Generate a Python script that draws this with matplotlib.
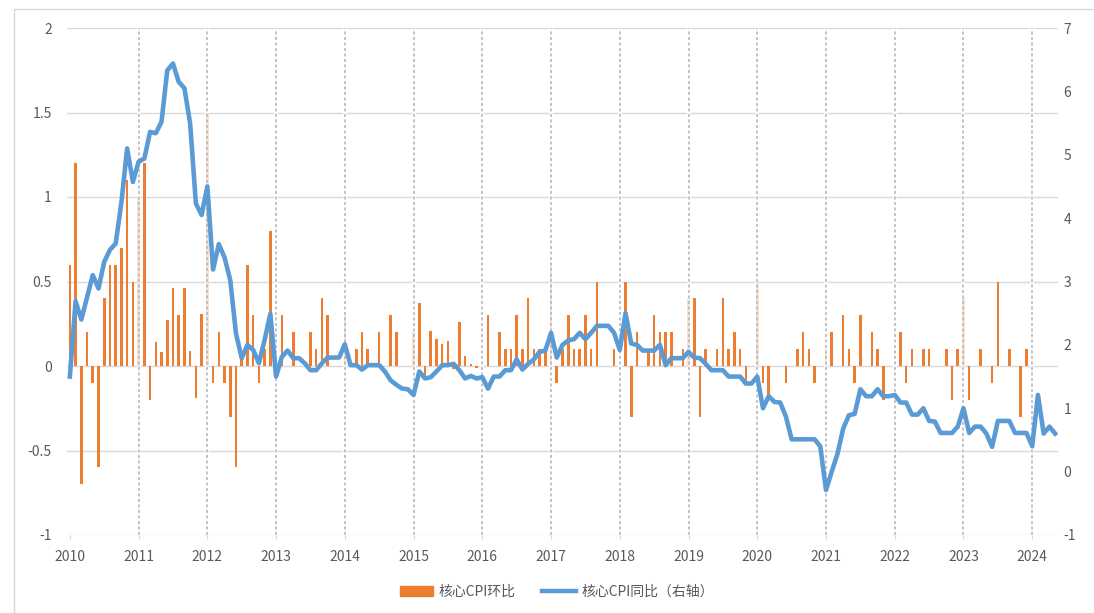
import numpy as np
import matplotlib.pyplot as plt
from matplotlib.patches import Rectangle
from matplotlib.lines import Line2D

plt.rcParams['font.family'] = ['Noto Sans CJK SC', 'DejaVu Sans']

# 年份标签（每年1月）
years = list(range(2010, 2025))

# 核心CPI环比（左轴），2010-01 ~ 2024-05
core_mom = [
    0.6, 1.2, -0.7, 0.2, -0.1, -0.6, 0.4, 0.6, 0.6, 0.7, 1.1, 0.5,         # 2010
    1.0, 1.2, -0.2, 0.14, 0.08, 0.27, 0.46, 0.3, 0.46, 0.09, -0.19, 0.31,  # 2011
    1.5, -0.1, 0.2, -0.1, -0.3, -0.6, 0.05, 0.6, 0.3, -0.1, 0.1, 0.8,      # 2012
    0.0, 0.3, 0.0, 0.2, 0.0, 0.0, 0.2, 0.1, 0.4, 0.3, 0.0, 0.0,            # 2013
    0.3, 0.0, 0.1, 0.2, 0.1, 0.0, 0.2, 0.0, 0.3, 0.2, 0.0, 0.0,            # 2014
    0.2, 0.37, -0.06, 0.21, 0.16, 0.13, 0.15, -0.02, 0.26, 0.06, 0.01, -0.01,  # 2015
    0.0, 0.3, 0.0, 0.2, 0.1, 0.1, 0.3, 0.1, 0.4, 0.1, 0.1, 0.1,            # 2016
    0.6, -0.1, 0.1, 0.3, 0.1, 0.1, 0.3, 0.1, 0.5, 0.0, 0.0, 0.1,           # 2017
    0.0, 0.5, -0.3, 0.2, 0.0, 0.1, 0.3, 0.2, 0.2, 0.2, 0.0, 0.1,           # 2018
    0.4, 0.4, -0.3, 0.1, 0.0, 0.1, 0.4, 0.1, 0.2, 0.1, -0.1, 0.0,          # 2019
    0.5, -0.1, -0.2, 0.0, 0.0, -0.1, 0.0, 0.1, 0.2, 0.1, -0.1, 0.0,        # 2020
    0.1, 0.2, 0.0, 0.3, 0.1, -0.1, 0.3, 0.0, 0.2, 0.1, -0.2, 0.0,          # 2021
    0.0, 0.2, -0.1, 0.1, 0.0, 0.1, 0.1, 0.0, 0.0, 0.1, -0.2, 0.1,          # 2022
    0.4, -0.2, 0.0, 0.1, 0.0, -0.1, 0.5, 0.0, 0.1, 0.0, -0.3, 0.1,         # 2023
    0.0, 0.0, 0.0, 0.0, 0.0,                                                # 2024
]

# 核心CPI同比（右轴）
core_yoy = [
    1.50, 2.69, 2.40, 2.75, 3.10, 2.89, 3.31, 3.50, 3.60, 4.25, 5.10, 4.57,  # 2010
    4.89, 4.94, 5.36, 5.34, 5.52, 6.33, 6.44, 6.15, 6.05, 5.49, 4.23, 4.05,  # 2011
    4.50, 3.19, 3.59, 3.38, 3.02, 2.18, 1.79, 2.00, 1.92, 1.71, 2.08, 2.49,  # 2012
    1.50, 1.81, 1.91, 1.79, 1.79, 1.71, 1.60, 1.60, 1.71, 1.80, 1.80, 1.80,  # 2013
    2.01, 1.68, 1.68, 1.61, 1.68, 1.68, 1.68, 1.58, 1.44, 1.37, 1.31, 1.30,  # 2014
    1.21, 1.58, 1.47, 1.49, 1.58, 1.68, 1.68, 1.70, 1.60, 1.47, 1.51, 1.47,  # 2015
    1.49, 1.31, 1.50, 1.50, 1.60, 1.60, 1.77, 1.61, 1.70, 1.77, 1.89, 1.91,  # 2016
    2.19, 1.80, 2.00, 2.07, 2.09, 2.19, 2.09, 2.19, 2.30, 2.30, 2.30, 2.19,  # 2017
    1.92, 2.50, 2.02, 2.00, 1.91, 1.91, 1.91, 2.00, 1.68, 1.79, 1.79, 1.79,  # 2018
    1.89, 1.80, 1.79, 1.70, 1.60, 1.60, 1.60, 1.50, 1.50, 1.50, 1.39, 1.39,  # 2019
    1.50, 1.00, 1.19, 1.10, 1.09, 0.87, 0.51, 0.51, 0.51, 0.51, 0.51, 0.40,  # 2020
    -0.29, 0.00, 0.28, 0.68, 0.89, 0.91, 1.30, 1.19, 1.19, 1.30, 1.19, 1.19,  # 2021
    1.21, 1.09, 1.09, 0.90, 0.90, 1.00, 0.80, 0.79, 0.61, 0.61, 0.61, 0.71,  # 2022
    1.00, 0.61, 0.71, 0.71, 0.60, 0.39, 0.80, 0.80, 0.80, 0.61, 0.61, 0.61,  # 2023
    0.40, 1.21, 0.60, 0.71, 0.60,                                            # 2024
]

left_ticks = [-1, -0.5, 0, 0.5, 1, 1.5, 2]
right_ticks = [-1, 0, 1, 2, 3, 4, 5, 6, 7]

txt_color = '#595959'
grid_color = '#d9d9d9'

fig = plt.figure(figsize=(10.94, 6.13), dpi=100)
fig.patch.set_facecolor('white')

# chart area border (only top/left fall inside the picture)
fig.patches.append(Rectangle((14 / 1094, -0.05), 1.2, 1 - 9 / 613 + 0.05,
                             transform=fig.transFigure, fill=False,
                             ec=grid_color, lw=1))

ax = fig.add_axes([67 / 1094, 1 - 535 / 613, (1058 - 67) / 1094, (535 - 28) / 613])
ax2 = ax.twinx()

x = np.arange(len(core_mom))
ax.bar(x, core_mom, width=0.45, color='#ed7d31', zorder=2)

# dashed year separators, drawn over the January bars so those look faint
jan_idx = [12 * (y - 2010) for y in years]
for i in jan_idx[1:]:
    ax.axvline(i, color='white', lw=2.8, alpha=0.8, zorder=3)
    ax.axvline(i, color='#b4b4b4', ls=(0, (2.0, 1.6)), lw=1.1, zorder=3.5)

ax2.plot(x, core_yoy, color='#5b9bd5', lw=3.3, solid_joinstyle='round', zorder=4)

ax.set_xlim(-0.5, len(core_mom) - 0.5)
ax.set_ylim(-1, 2)
ax2.set_ylim(-1, 7)

ax.set_yticks(left_ticks)
ax.set_yticklabels([f'{v:g}' for v in left_ticks])
ax2.set_yticks(right_ticks)
ax2.set_yticklabels([str(v) for v in right_ticks])
ax.set_xticks(jan_idx)
ax.set_xticklabels([str(y) for y in years])

ax.grid(axis='y', color=grid_color, lw=1, zorder=0)
ax.set_axisbelow(True)

for a in (ax, ax2):
    for s in a.spines.values():
        s.set_visible(False)

ax.tick_params(axis='y', length=0, pad=11, labelsize=10, labelcolor=txt_color)
ax2.tick_params(axis='y', length=0, pad=4, labelsize=10, labelcolor=txt_color)
ax.tick_params(axis='x', length=3, color=grid_color, pad=8, labelsize=10,
               labelcolor=txt_color)

handles = [Rectangle((0, 0), 1, 1, color='#ed7d31'),
           Line2D([], [], color='#5b9bd5', lw=3.2)]
labels = ['核心CPI环比', '核心CPI同比（右轴）']
fig.legend(handles, labels, loc='center', bbox_to_anchor=(0.509, 1 - 592 / 613),
           ncol=2, frameon=False, fontsize=10, handlelength=2.4,
           handletextpad=0.4, columnspacing=1.9, labelcolor=txt_color)

fig.savefig('out.png', dpi=100, facecolor='white')
